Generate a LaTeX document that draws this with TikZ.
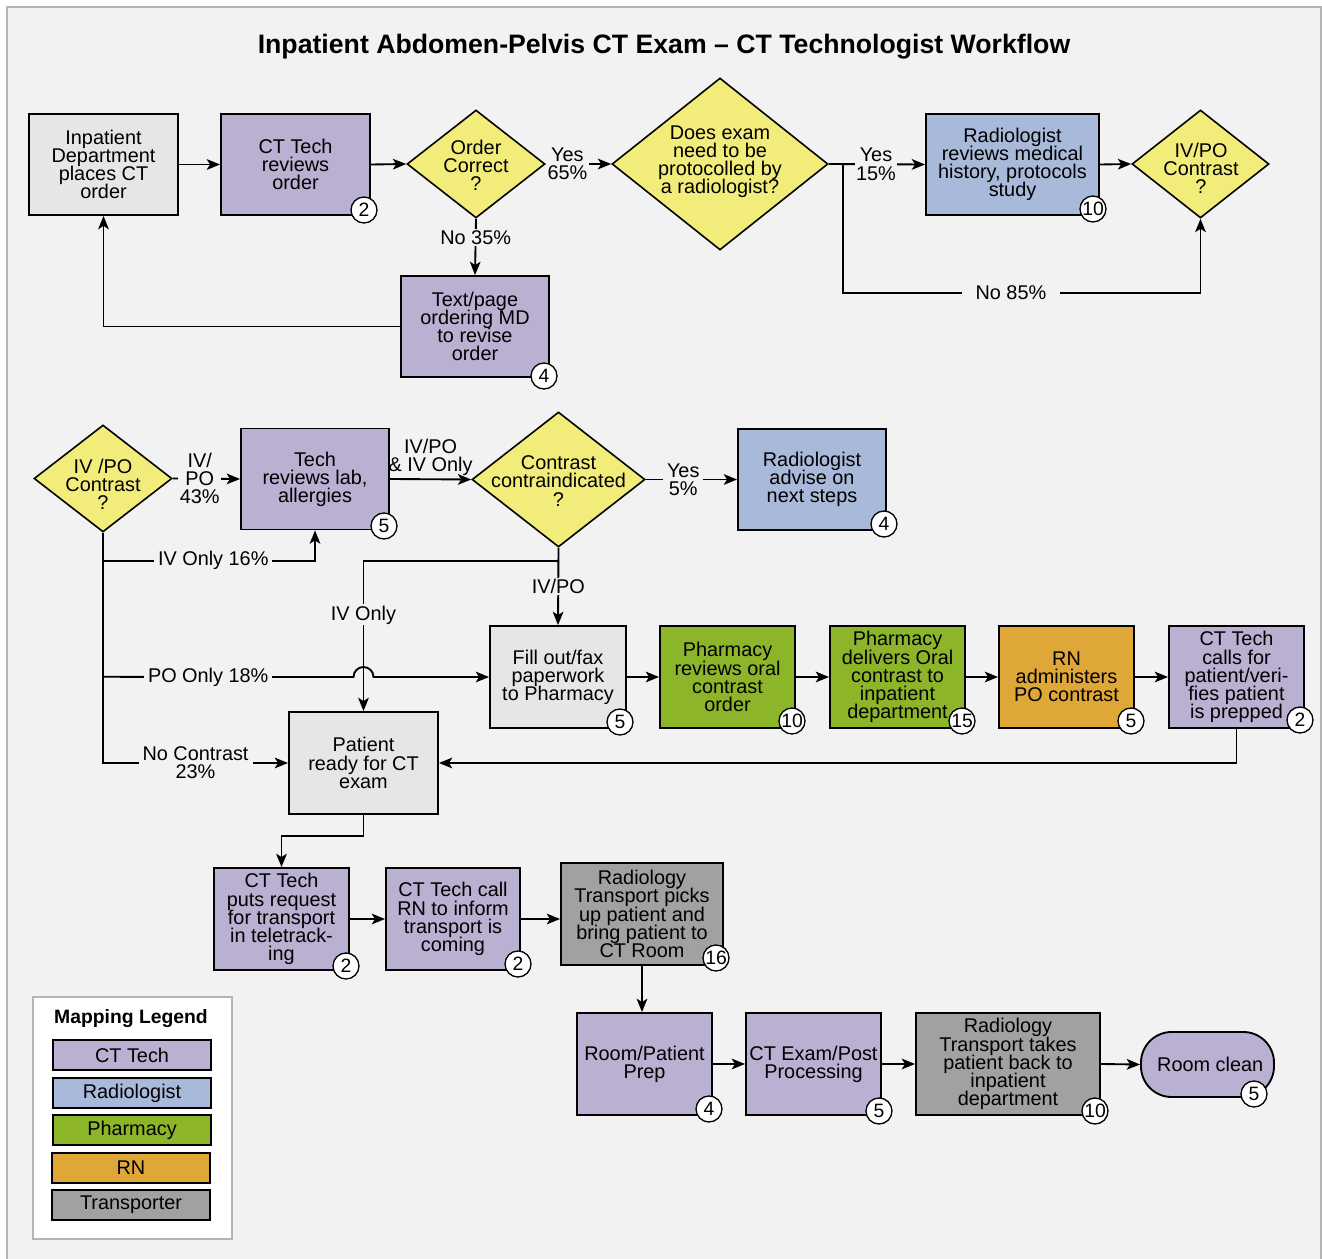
\documentclass[tikz,border=0pt]{standalone}
\usepackage{fontspec}
\setmainfont{Liberation Sans}
\usetikzlibrary{calc, positioning, shapes.geometric, arrows.meta}

\definecolor{panelbg}{HTML}{F2F2F2}
\definecolor{panelrule}{HTML}{B4B4B4}
\definecolor{lgray}{HTML}{E6E6E6}
\definecolor{ctpurple}{HTML}{B9B0D2}
\definecolor{radblue}{HTML}{A9B9DA}
\definecolor{dyellow}{HTML}{F2EC7A}
\definecolor{pharmgreen}{HTML}{8DB52A}
\definecolor{rnorange}{HTML}{DFA638}
\definecolor{transgray}{HTML}{A0A29F}

% tight leading as in the original chart
\newcommand{\flowfont}{\fontsize{14.9}{13.6}\selectfont\lineskiplimit=-20pt\lineskip=0pt}

\begin{document}
\begin{tikzpicture}[x=0.75pt, y=-0.75pt,
        every node/.style={font=\flowfont},
        wh/.style 2 args={minimum width=#1*0.75pt, minimum height=#2*0.75pt},
        box/.style={rectangle, draw=black, line width=1.4pt, wh={148}{101},
                    align=center, inner sep=1pt},
        decision/.style={diamond, draw=black, line width=1.2pt, fill=dyellow,
                    inner sep=0pt},
        dtext/.style={align=center, inner sep=0pt},
        badge/.style={circle, draw=black, fill=white, line width=1pt,
                    inner sep=0pt, minimum size=26*0.75pt,
                    font=\fontsize{14.5}{14.5}\selectfont},
        lbl/.style={fill=panelbg, inner xsep=3pt, inner ysep=1pt, align=center},
        swatch/.style={rectangle, draw=black, line width=1.4pt, wh={158}{30},
                    inner sep=0pt},
        arrow/.style={-{Stealth[length=10pt, width=8pt, inset=2.5pt]},
                    line width=1.4pt},
    ]
    \useasboundingbox (0,0) rectangle (1322,1259);
    % panel
    \draw[fill=panelbg, draw=panelrule, line width=1pt] (7,7) rectangle (1321,1265);

    % title
    \node[font=\bfseries\fontsize{20}{22}\selectfont] (title) at (664,47)
        {Inpatient Abdomen-Pelvis CT Exam – CT Technologist Workflow};

    % ordering (top row)
    \node[box, fill=lgray, wh={149}{101}] (inp) at (103.5,164.5)
        {Inpatient\\Department\\places CT\\order};
    \node[box, fill=ctpurple, wh={149}{101}] (ctrev) at (295.5,164.5)
        {CT Tech\\reviews\\order};
    \node[decision, wh={138}{108}] (ordok) at (476,164) {};
    \node[dtext] (ordok-t) at (476,165) {Order\\Correct\\?};
    \node[decision, wh={216}{172}] (protoc) at (720,164) {};
    \node[dtext] (protoc-t) at (720,162) {Does exam\\need to be\\protocolled by\\a radiologist?};
    \node[box, fill=radblue, wh={173}{101}] (radrev) at (1012.5,164.5)
        {Radiologist\\reviews medical\\history, protocols\\study};
    \node[decision, wh={137}{108}] (ivpo1) at (1200.5,164) {};
    \node[dtext] (ivpo1-t) at (1201,168) {IV/PO\\Contrast\\?};
    \node[box, fill=ctpurple] (textmd) at (475,326.5)
        {Text/page\\ordering MD\\to revise\\order};

    \draw[arrow] (inp.east) -- (ctrev.west);
    \draw[arrow] (ctrev.east) -- (ordok.west);
    \draw[arrow] (ordok.east) -- node[lbl, pos=0.33, inner xsep=1pt] {Yes\\65\%} (protoc.west);
    \draw[arrow] (ordok.south) -- node[lbl, pos=0.33] {No 35\%} (textmd.north);
    \draw[arrow] (textmd.west) -| (inp.south);
    \draw[arrow] (protoc.east) -- node[lbl, pos=0.49, inner xsep=1pt] {Yes\\15\%} (radrev.west);
    \draw[arrow] (protoc.east) -- ++(14,0) -- ++(0,129)
        -| node[lbl, pos=0.235, inner xsep=10pt] {No 85\%} (ivpo1.south);
    \draw[arrow] (radrev.east) -- (ivpo1.west);

    % contrast (middle rows)
    \node[decision, wh={138}{107}] (ivpo2) at (103,478.5) {};
    \node[dtext] (ivpo2-t) at (103,484) {IV /PO\\Contrast\\?};
    \node[box, fill=ctpurple] (techlab) at (315,479)
        {Tech\\reviews lab,\\allergies};
    \node[decision, wh={173}{135}] (contra) at (558.5,479.5) {};
    \node[dtext] (contra-t) at (558.5,481) {Contrast\\contraindicated\\?};
    \node[box, fill=radblue] (radadv) at (812,479.5)
        {Radiologist\\advise on\\next steps};
    \node[box, fill=lgray, wh={136}{102}] (fillout) at (558,677)
        {Fill out/fax\\paperwork\\to Pharmacy};
    \node[box, fill=pharmgreen, wh={135}{102}] (pharmrev) at (727.5,677)
        {Pharmacy\\reviews oral\\contrast\\order};
    \node[box, fill=pharmgreen, wh={135}{102}] (pharmdel) at (897.5,677)
        {Pharmacy\\delivers Oral\\contrast to\\inpatient\\department};
    \node[box, fill=rnorange, wh={135}{102}] (rnadm) at (1066.5,677)
        {RN\\administers\\PO contrast};
    \node[box, fill=ctpurple, wh={135}{102}] (ctcalls) at (1236.5,677)
        {CT Tech\\calls for\\patient/veri-\\fies patient\\is prepped};
    \node[box, fill=lgray, wh={149}{102}] (ready) at (363.5,763)
        {Patient\\ready for CT\\exam};

    \draw[arrow] (ivpo2.east) -- node[lbl, pos=0.4, inner xsep=1pt] {IV/\\PO\\43\%} (techlab.west);
    \draw[arrow] (techlab.east) -- node[midway, above, align=center, inner sep=2pt]
        {IV/PO\\\& IV Only} (contra.west);
    \draw[arrow] (contra.east) -- node[lbl, pos=0.41] {Yes\\5\%} (radadv.west);
    \draw[arrow] (ivpo2.south) |- node[lbl, pos=0.75] {No Contrast\\23\%} (ready.west);
    \draw[arrow] ($(ivpo2.south)+(0,28)$) -| node[lbl, pos=0.26] {IV Only 16\%}
        (techlab.south);
    \draw[arrow] (contra.south) -- node[lbl, pos=0.5] {IV/PO} (fillout.north);
    \draw[arrow] ($(contra.south)+(0,13)$) -| node[lbl, pos=0.68] {IV Only}
        (ready.north);
    \draw[arrow] ($(ivpo2.south)+(0,144)$)
        -- node[lbl, pos=0.42] {PO Only 18\%} ($(ready.north |- fillout.west)+(-10,0)$)
        arc[start angle=180, end angle=360, radius=10] -- (fillout.west);
    \draw[arrow] (fillout.east) -- (pharmrev.west);
    \draw[arrow] (pharmrev.east) -- (pharmdel.west);
    \draw[arrow] (pharmdel.east) -- (rnadm.west);
    \draw[arrow] (rnadm.east) -- (ctcalls.west);
    \draw[arrow] (ctcalls.south) |- (ready.east);

    % transport and exam (bottom rows)
    \node[box, fill=ctpurple, wh={135}{102}] (ctput) at (281.5,919)
        {CT Tech\\puts request\\for transport\\in teletrack-\\ing};
    \node[box, fill=ctpurple, wh={134}{102}] (ctcall) at (453,919)
        {CT Tech call\\RN to inform\\transport is\\coming};
    \node[box, fill=transgray, wh={162}{102}] (transp) at (642,914)
        {Radiology\\Transport picks\\up patient and\\bring patient to\\CT Room};
    \node[box, fill=ctpurple, wh={135}{102}] (roomprep) at (644.5,1064)
        {Room/Patient\\Prep};
    \node[box, fill=ctpurple, wh={135}{102}] (ctexam) at (813.5,1064)
        {CT Exam/Post\\Processing};
    \node[box, fill=transgray, wh={184}{102}] (transpback) at (1008,1064)
        {Radiology\\Transport takes\\patient back to\\inpatient\\department};
    \node[rectangle, draw=black, line width=1.4pt, fill=ctpurple, wh={133}{65},
        rounded corners=23pt] (roomclean) at (1207.5,1064.5) {\hspace*{4pt}Room clean};

    \draw[arrow] (ready.south) -- ++(0,21) -| (ctput.north);
    \draw[arrow] (ctput.east) -- (ctcall.west);
    \draw[arrow] (ctcall.east) -- (ctcall.east -| transp.west);
    \draw[arrow] (transp.south) -- (transp.south |- roomprep.north);
    \draw[arrow] (roomprep.east) -- (ctexam.west);
    \draw[arrow] (ctexam.east) -- (transpback.west);
    \draw[arrow] (transpback.east) -- (roomclean.west);

    % minutes
    \node[badge] (ctrev-m) at (364,210) {2};
    \node[badge] (textmd-m) at (544,376) {4};
    \node[badge] (radrev-m) at (1093,209) {10};
    \node[badge] (techlab-m) at (384,526) {5};
    \node[badge] (radadv-m) at (884,524) {4};
    \node[badge] (fillout-m) at (620,722) {5};
    \node[badge] (pharmrev-m) at (792,721) {10};
    \node[badge] (pharmdel-m) at (962,721) {15};
    \node[badge] (rnadm-m) at (1131,721) {5};
    \node[badge] (ctcalls-m) at (1300,720) {2};
    \node[badge] (ctput-m) at (346,966) {2};
    \node[badge] (ctcall-m) at (518,964) {2};
    \node[badge] (transp-m) at (716,958) {16};
    \node[badge] (roomprep-m) at (709,1109) {4};
    \node[badge] (ctexam-m) at (879,1111) {5};
    \node[badge] (transpback-m) at (1095,1111) {10};
    \node[badge] (roomclean-m) at (1254,1094) {5};

    % legend
    \node[rectangle, draw=panelrule, fill=white, line width=1pt, wh={199}{242}]
        (legend) at (132.5,1118) {};
    \node[font=\bfseries\fontsize{14.5}{14.5}\selectfont] (legend-t) at (131,1019)
        {Mapping Legend};
    \node[swatch, fill=ctpurple] (lg-ct) at (132,1055) {CT Tech};
    \node[swatch, fill=radblue] (lg-rad) at (132,1093) {Radiologist};
    \node[swatch, fill=pharmgreen] (lg-ph) at (132,1130) {Pharmacy};
    \node[swatch, fill=rnorange] (lg-rn) at (131,1168) {RN};
    \node[swatch, fill=transgray] (lg-tr) at (131,1205) {Transporter};

\end{tikzpicture}
\end{document}
